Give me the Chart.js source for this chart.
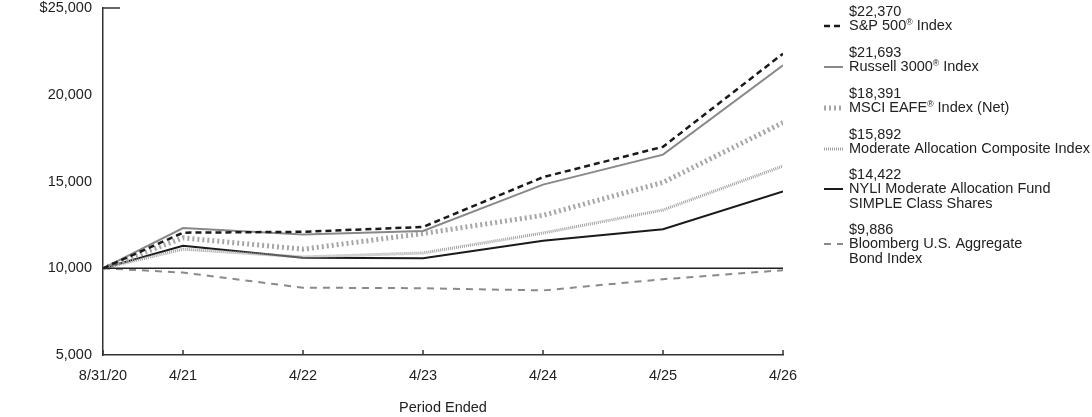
<!DOCTYPE html>
<html>
<head>
<meta charset="utf-8">
<script src="https://cdn.jsdelivr.net/npm/chart.js@4/dist/chart.umd.min.js"></script>
<style>
  html, body { margin: 0; padding: 0; background: #fff; }
  #wrap { width: 1092px; height: 417px; position: relative; }
</style>
</head>
<body>
<div id="wrap"><canvas id="myChart" width="1092" height="417"></canvas></div>
<script>
// months since 8/31/20 for each period end
const months = [0, 8, 20, 32, 44, 56, 68];
const tickLabels = ['8/31/20', '4/21', '4/22', '4/23', '4/24', '4/25', '4/26'];
const yTicks = [5000, 10000, 15000, 20000, 25000];

const sp500 = [10000, 12050, 12100, 12380, 15250, 17000, 22370];
const russell = [10000, 12320, 11950, 12150, 14820, 16550, 21693];
const msci = [10000, 11750, 11100, 12000, 13050, 14950, 18391];
const composite = [10000, 11100, 10650, 10880, 12030, 13360, 15892];
const nyli = [10000, 11300, 10600, 10580, 11580, 12250, 14422];
const bloomberg = [10000, 9750, 8880, 8850, 8720, 9370, 9886];
const baseline = [10000, 10000, 10000, 10000, 10000, 10000, 10000];

const names = ['S&P 500® Index', 'Russell 3000® Index', 'MSCI EAFE® Index (Net)',
  'Moderate Allocation Composite Index', 'NYLI Moderate Allocation Fund\nSIMPLE Class Shares',
  'Bloomberg U.S. Aggregate\nBond Index'];
const endValues = ['$22,370', '$21,693', '$18,391', '$15,892', '$14,422', '$9,886'];

function pts(arr) {
  return arr.map((v, i) => ({ x: months[i], y: v }));
}

const FONT = '"Liberation Sans", Arial, sans-serif';
const FS = 14.5;

const styles = [
  { color: '#1a1a1a', width: 2.5, dash: [6, 4] },
  { color: '#888888', width: 2, dash: [] },
  { color: '#a6a6a6', width: 5, dash: [2, 3] },
  { color: '#a0a0a0', width: 3, dash: [1, 1] },
  { color: '#1a1a1a', width: 2, dash: [] },
  { color: '#8a8a8a', width: 2, dash: [7, 6] }
];
const series = [sp500, russell, msci, composite, nyli, bloomberg];

const datasets = [{
  label: 'base', data: pts(baseline), borderColor: '#222', borderWidth: 1.5,
  pointRadius: 0, fill: false, tension: 0
}];
series.forEach((s, i) => {
  datasets.push({
    label: names[i], data: pts(s), borderColor: styles[i].color,
    borderWidth: styles[i].width, borderDash: styles[i].dash,
    pointRadius: 0, fill: false, tension: 0
  });
});

// text with ® drawn as small superscript
function drawText(c, t, x, y) {
  const parts = t.split('®');
  parts.forEach((p, k) => {
    c.font = FS + 'px ' + FONT;
    c.fillText(p, x, y);
    x += c.measureText(p).width;
    if (k < parts.length - 1) {
      c.font = (FS * 0.6) + 'px ' + FONT;
      c.fillText('®', x, y - 3);
      x += c.measureText('®').width;
    }
  });
}

// legend + small axis marks
const extras = {
  id: 'extras',
  afterDraw(chart) {
    const c = chart.ctx;
    const xs = chart.scales.x, ys = chart.scales.y;
    c.save();
    c.strokeStyle = '#333';
    c.lineWidth = 1.5;
    // tick marks pointing up from x axis
    months.forEach(m => {
      const px = xs.getPixelForValue(m);
      c.beginPath();
      c.moveTo(px, ys.bottom);
      c.lineTo(px, ys.bottom - 5);
      c.stroke();
    });
    // short mark at the top of the y axis
    const top = ys.getPixelForValue(25000);
    c.beginPath();
    c.moveTo(xs.left, top);
    c.lineTo(xs.left + 17, top);
    c.stroke();

    // legend
    c.fillStyle = '#222';
    c.textBaseline = 'middle';
    const lx = 824, tx = 849;
    const rows = [12, 53, 94, 135, 175, 230];
    names.forEach((n, i) => {
      const y0 = rows[i];
      drawText(c, endValues[i], tx, y0);
      const lines = n.split('\n');
      lines.forEach((t, j) => drawText(c, t, tx, y0 + 14 + j * 15));
      c.strokeStyle = styles[i].color;
      c.lineWidth = styles[i].width;
      c.setLineDash(styles[i].dash);
      c.beginPath();
      c.moveTo(lx, y0 + 14);
      c.lineTo(lx + 19, y0 + 14);
      c.stroke();
      c.setLineDash([]);
    });
    c.restore();
  }
};

const ctx = document.getElementById('myChart');
const myChart = new Chart(ctx, {
  type: 'line',
  data: { datasets: datasets },
  plugins: [extras],
  options: {
    responsive: false,
    animation: false,
    layout: { padding: { top: 8, right: 309, left: 0, bottom: 0 } },
    plugins: { legend: { display: false }, tooltip: { enabled: false } },
    scales: {
      x: {
        type: 'linear', min: 0, max: 68,
        afterBuildTicks: (s) => { s.ticks = months.map(v => ({ value: v })); },
        afterFit: (s) => { s.height = 62; s.paddingLeft = 0; s.paddingRight = 0; },
        ticks: {
          autoSkip: false, maxRotation: 0, color: '#222', padding: 12,
          font: { family: FONT, size: FS },
          callback: (v) => tickLabels[months.indexOf(v)]
        },
        grid: { display: false, drawTicks: false },
        border: { color: '#333', width: 1.5 },
        title: { display: true, text: 'Period Ended', color: '#222', font: { family: FONT, size: FS }, padding: { top: 20, bottom: 0 } }
      },
      y: {
        min: 5000, max: 25000,
        afterBuildTicks: (s) => { s.ticks = yTicks.map(v => ({ value: v })); },
        afterFit: (s) => { s.width = 103; s.paddingTop = 0; s.paddingBottom = 0; },
        ticks: {
          color: '#222', padding: 11,
          font: { family: FONT, size: FS },
          callback: (v) => (v === 25000 ? '$' : '') + v.toLocaleString('en-US')
        },
        grid: { display: false, drawTicks: false },
        border: { color: '#333', width: 1.5 }
      }
    }
  }
});
</script>
</body>
</html>
